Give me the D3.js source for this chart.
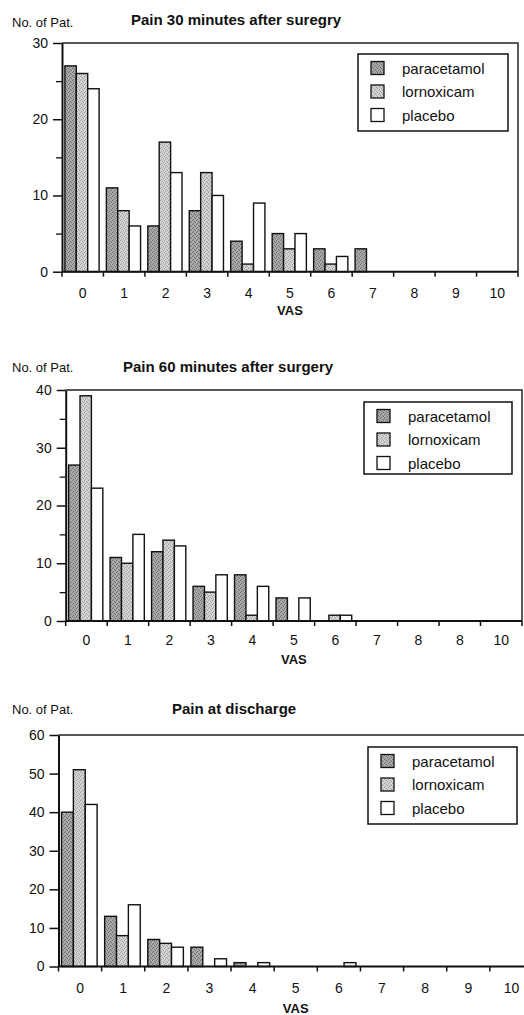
<!DOCTYPE html>
<html>
<head>
<meta charset="utf-8">
<script src="https://cdn.jsdelivr.net/npm/d3@7"></script>
<style>
  body { margin: 0; background: #fff; }
  svg text { font-family: "Liberation Sans", Arial, sans-serif; fill: #111; }
</style>
</head>
<body>
<svg id="chart" width="524" height="1015"></svg>
<script>
// data
var SERIES = ["paracetamol", "lornoxicam", "placebo"];
var VAS_LABELS = ["0", "1", "2", "3", "4", "5", "6", "7", "8", "9", "10"];
var VAS_LABELS_60 = ["0", "1", "2", "3", "4", "5", "6", "7", "8", "8", "10"]; // typo kept from original

var para30 = [27, 11, 6, 8, 4, 5, 3, 3, 0, 0, 0];
var lorn30 = [26, 8, 17, 13, 1, 3, 1, 0, 0, 0, 0];
var plac30 = [24, 6, 13, 10, 9, 5, 2, 0, 0, 0, 0];

var para60 = [27, 11, 12, 6, 8, 4, 0, 0, 0, 0, 0];
var lorn60 = [39, 10, 14, 5, 1, 0, 1, 0, 0, 0, 0];
var plac60 = [23, 15, 13, 8, 6, 4, 1, 0, 0, 0, 0];

var paraDis = [40, 13, 7, 5, 1, 0, 0, 0, 0, 0, 0];
var lornDis = [51, 8, 6, 0, 0, 0, 0, 0, 0, 0, 0];
var placDis = [42, 16, 5, 2, 1, 0, 1, 0, 0, 0, 0];

var PANELS = [
  { title: "Pain 30 minutes after suregry", labels: VAS_LABELS, values: [para30, lorn30, plac30],
    yMax: 30, minor: true,
    left: 62, right: 518, top: 43, bottom: 271.7,
    titleX: 131, titleY: 25, nopY: 27, tickY: 298, vasY: 315,
    legend: { x: 358, y: 54, w: 150, h: 77 } },
  { title: "Pain 60 minutes after surgery", labels: VAS_LABELS_60, values: [para60, lorn60, plac60],
    yMax: 40, minor: true,
    left: 65.7, right: 522, top: 390, bottom: 621,
    titleX: 123, titleY: 372, nopY: 372, tickY: 645, vasY: 664,
    legend: { x: 364, y: 402, w: 148, h: 72 } },
  { title: "Pain at discharge", labels: VAS_LABELS, values: [paraDis, lornDis, placDis],
    yMax: 60, minor: false,
    left: 58.5, right: 533, top: 735, bottom: 966.5,
    titleX: 172, titleY: 714, nopY: 714, tickY: 993, vasY: 1013,
    legend: { x: 368, y: 747, w: 149, h: 77 } }
];

var FILLS = ["url(#stipDark)", "url(#stipLight)", "#fff"];

var svg = d3.select("#chart");

// stippled grey fills like the printed figure
var defs = svg.append("defs");
var makePattern = function(id, base, dot) {
  var p = defs.append("pattern").attr("id", id)
    .attr("patternUnits", "userSpaceOnUse").attr("width", 4).attr("height", 4);
  p.append("rect").attr("width", 4).attr("height", 4).attr("fill", base);
  [[0, 0], [2, 1], [1, 3], [3, 2]].forEach(function(d) {
    p.append("rect").attr("x", d[0]).attr("y", d[1]).attr("width", 1).attr("height", 1).attr("fill", dot);
  });
};
makePattern("stipDark", "#a9a9a9", "#6e6e6e");
makePattern("stipLight", "#d4d4d4", "#9c9c9c");

PANELS.forEach(function(p) {
  var g = svg.append("g");

  var x = d3.scaleBand().domain(d3.range(11)).range([p.left, p.right]);
  var bw = x.bandwidth();
  var xs = d3.scaleBand().domain(d3.range(3)).range([bw * 0.07, bw * 0.07 + bw * 0.825]);
  var y = d3.scaleLinear().domain([0, p.yMax]).range([p.bottom, p.top]);

  // frame top + right
  g.append("path")
    .attr("d", "M" + p.left + "," + p.top + "H" + p.right + "V" + p.bottom)
    .attr("fill", "none").attr("stroke", "#222").attr("stroke-width", 1.5);

  // bars
  p.values.forEach(function(vals, si) {
    g.selectAll(null).data(vals).enter().append("rect")
      .attr("x", function(d, i) { return x(i) + xs(si); })
      .attr("y", function(d) { return y(d); })
      .attr("width", xs.bandwidth())
      .attr("height", function(d) { return p.bottom - y(d); })
      .attr("fill", FILLS[si])
      .attr("stroke", "#111").attr("stroke-width", 1.4)
      .style("display", function(d) { return d > 0 ? null : "none"; });
  });

  // y axis
  var yAxis = g.append("g").attr("transform", "translate(" + p.left + ",0)")
    .call(d3.axisLeft(y).tickValues(d3.range(0, p.yMax + 1, 10)).tickSize(9).tickPadding(5).tickSizeOuter(0));
  yAxis.select(".domain").attr("stroke", "#111").attr("stroke-width", 2);
  yAxis.selectAll(".tick line").attr("stroke", "#111").attr("stroke-width", 1.5);
  yAxis.selectAll("text").attr("font-size", 14).attr("font-family", null);
  if (p.minor) {
    g.append("g").attr("transform", "translate(" + p.left + ",0)")
      .call(d3.axisLeft(y).tickValues(d3.range(5, p.yMax, 10)).tickSize(6).tickFormat(""))
      .call(function(a) {
        a.select(".domain").remove();
        a.selectAll("line").attr("stroke", "#111").attr("stroke-width", 1.3);
      });
  }

  // x axis: ticks on category boundaries
  var xAxis = g.append("g").attr("transform", "translate(0," + p.bottom + ")");
  xAxis.append("line").attr("x1", p.left).attr("x2", p.right)
    .attr("stroke", "#111").attr("stroke-width", 2);
  var bounds = d3.range(12).map(function(i) { return i < 11 ? x(i) : x(10) + bw; });
  xAxis.selectAll(null).data(bounds).enter().append("line")
    .attr("x1", function(d) { return d; }).attr("x2", function(d) { return d; })
    .attr("y1", 0).attr("y2", 5).attr("stroke", "#111").attr("stroke-width", 1.5);
  g.selectAll(null).data(p.labels).enter().append("text")
    .attr("x", function(d, i) { return x(i) + bw / 2; })
    .attr("y", p.tickY).attr("text-anchor", "middle").attr("font-size", 14)
    .text(function(d) { return d; });

  // titles
  g.append("text").attr("x", 12).attr("y", p.nopY).attr("font-size", 13).text("No. of Pat.");
  g.append("text").attr("x", p.titleX).attr("y", p.titleY).attr("font-size", 15)
    .attr("font-weight", "bold").text(p.title);
  g.append("text").attr("x", x(5) + bw / 2).attr("y", p.vasY).attr("text-anchor", "middle")
    .attr("font-size", 13).attr("font-weight", "bold").text("VAS");

  // legend
  var L = p.legend;
  var lg = g.append("g").attr("transform", "translate(" + L.x + "," + L.y + ")");
  lg.append("rect").attr("width", L.w).attr("height", L.h)
    .attr("fill", "#fff").attr("stroke", "#111").attr("stroke-width", 1.5);
  SERIES.forEach(function(s, i) {
    var cy = 14 + i * 23.5;
    lg.append("rect").attr("x", 13).attr("y", cy - 6.5).attr("width", 13).attr("height", 13)
      .attr("fill", FILLS[i]).attr("stroke", "#111").attr("stroke-width", 1.3);
    lg.append("text").attr("x", 44).attr("y", cy + 5.5).attr("font-size", 15).text(s);
  });
});
</script>
</body>
</html>
